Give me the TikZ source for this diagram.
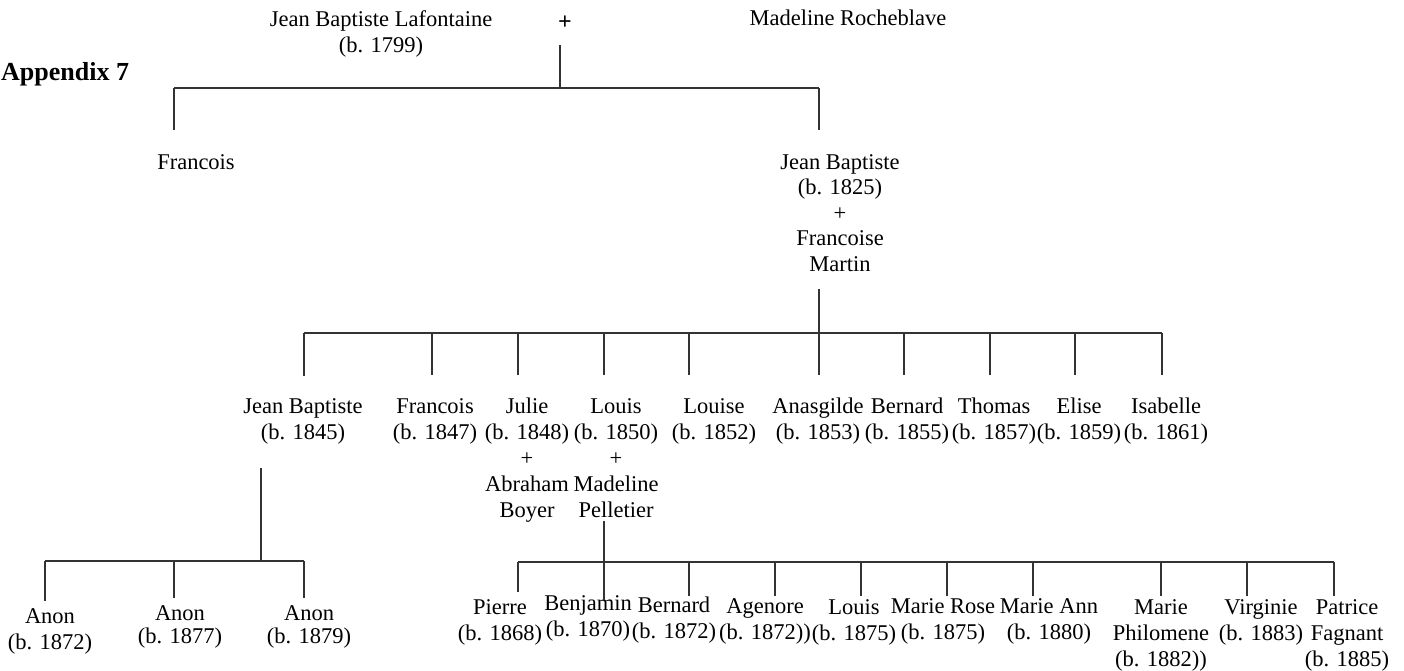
\documentclass[tikz,border=0pt]{standalone}
\usepackage{fontspec}
\setmainfont{Liberation Serif}
\begin{document}
\begin{tikzpicture}[x=1pt,y=-1pt,
  person/.style={inner sep=0pt, align=center, anchor=north, font=\fontsize{22.5}{26}\selectfont, text=black},
  titletext/.style={inner sep=0pt, font=\fontsize{26}{30}\selectfont\bfseries, text=black},
  ln/.style={line width=1.7pt, draw=black!80}]
\useasboundingbox (0,0) rectangle (1404,670);

% ---- title
\node[titletext, anchor=west] (app) at (1,74) {Appendix 7};

% ---- generation 0
\node[person] (jbl) at (381,10) {Jean Baptiste Lafontaine\\(b. 1799)};
\node[person, anchor=center, font=\fontsize{24}{26}\selectfont\bfseries] (plus0) at (565,23) {+};
\node[person] (mr) at (848,10) {Madeline Rocheblave};

% ---- generation 1
\node[person] (fr1) at (196,154) {Francois};
\node[person, font=\fontsize{22.5}{25.5}\selectfont] (jb1) at (840,154) {Jean Baptiste\\(b. 1825)\\+\\Francoise\\Martin};

% ---- generation 2
\node[person] (jb2) at (303,398) {Jean Baptiste\\(b. 1845)};
\node[person] (fr2) at (435,398) {Francois\\(b. 1847)};
\node[person] (ju2) at (527,398) {Julie\\(b. 1848)\\+\\Abraham\\Boyer};
\node[person] (lo2) at (616,398) {Louis\\(b. 1850)\\+\\Madeline\\Pelletier};
\node[person] (ls2) at (714,398) {Louise\\(b. 1852)};
\node[person] (an2) at (818,398) {Anasgilde\\(b. 1853)};
\node[person] (be2) at (907,398) {Bernard\\(b. 1855)};
\node[person] (th2) at (994,398) {Thomas\\(b. 1857)};
\node[person] (el2) at (1079,398) {Elise\\(b. 1859)};
\node[person] (is2) at (1166,398) {Isabelle\\(b. 1861)};

% ---- generation 3 (children of Jean Baptiste b. 1845)
\node[person] (a1) at (50,608) {Anon\\(b. 1872)};
\node[person, font=\fontsize{22.5}{23}\selectfont] (a2) at (180,605) {Anon\\(b. 1877)};
\node[person, font=\fontsize{22.5}{23}\selectfont] (a3) at (309,605) {Anon\\(b. 1879)};

% ---- generation 3 (children of Louis b. 1850)
\node[person] (c1) at (500,599) {Pierre\\(b. 1868)};
\node[person] (c2) at (588,595) {Benjamin\\(b. 1870)};
\node[person] (c3) at (674,597) {Bernard\\(b. 1872)};
\node[person] (c4) at (765,598) {Agenore\\(b. 1872))};
\node[person] (c5) at (854,599) {Louis\\(b. 1875)};
\node[person] (c6) at (943,598) {Marie Rose\\(b. 1875)};
\node[person] (c7) at (1049,598) {Marie Ann\\(b. 1880)};
\node[person] (c8) at (1161,599) {Marie\\Philomene\\(b. 1882))};
\node[person] (c9) at (1261,599) {Virginie\\(b. 1883)};
\node[person] (c10) at (1347,599) {Patrice\\Fagnant\\(b. 1885)};

% ---- connectors: generation 0 -> 1
\coordinate (d0) at (560,45);
\coordinate (b0L) at (174,88);
\coordinate (b0R) at (819,88);
\draw[ln] (d0) -- (d0 |- b0L);
\draw[ln] (b0L) -- (b0R);
\draw[ln] (b0L) -- ++(0,42);
\draw[ln] (b0R) -- ++(0,42);

% ---- connectors: generation 1 -> 2
\coordinate (d1) at (819,289);
\coordinate (b1L) at (304,333);
\coordinate (b1R) at (1162,333);
\draw[ln] (d1) -- (819,375);
\draw[ln] (b1L) -- (b1R);
\foreach \x/\l in {304/43,432/42,518/42,604/42,689/42,904/42,990/42,1075/42,1162/42}
  \draw[ln] (\x,333) -- ++(0,\l);

% ---- connectors: Jean Baptiste b. 1845 -> children
\coordinate (d2) at (261,468);
\coordinate (b2L) at (45,561);
\coordinate (b2R) at (304,561);
\draw[ln] (d2) -- (d2 |- b2L);
\draw[ln] (b2L) -- (b2R);
\foreach \x/\l in {45/40,174/37,304/37}
  \draw[ln] (\x,561) -- ++(0,\l);

% ---- connectors: Louis b. 1850 -> children
\coordinate (d3) at (604,521);
\coordinate (b3L) at (518,562);
\coordinate (b3R) at (1334,562);
\draw[ln] (d3) -- (d3 |- b3L);
\draw[ln] (b3L) -- (b3R);
\foreach \x/\l in {518/30,604/38,689/34,775/34,861/34,947/34,1033/34,1161/34,1247/34,1334/34}
  \draw[ln] (\x,562) -- ++(0,\l);
\end{tikzpicture}
\end{document}
